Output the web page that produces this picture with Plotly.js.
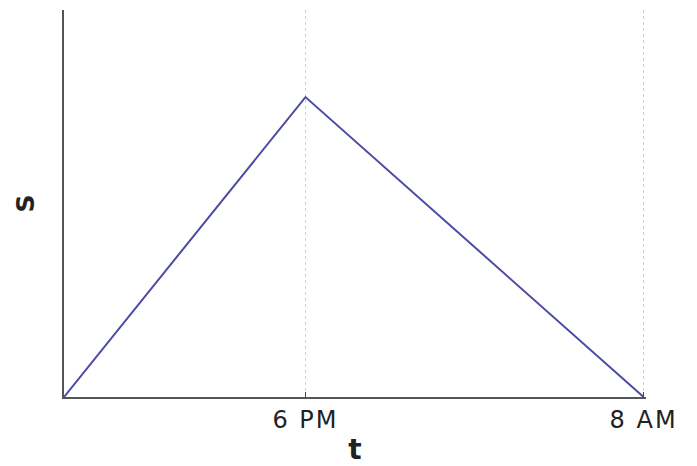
<!DOCTYPE html>
<html>
<head>
<meta charset="utf-8">
<script src="https://cdn.plot.ly/plotly-3.0.1.min.js"></script>
<style>
  html, body { margin: 0; padding: 0; background: #fff; }
  #plot { width: 697px; height: 466px; }
  /* the reference labels are wide-set */
  #plot .xtick text { letter-spacing: 2px; }
</style>
</head>
<body>
<div id="plot"></div>
<script>
// time in hours from midnight (8 AM start, 6 PM peak, 8 AM next day)
const hours = [8, 18, 32];
const storage = [0, 0.775, 0];
const tickHours = [18, 32];
const tickLabels = ['6 PM', '8 AM'];

const data = [{
    x: hours, y: storage,
    type: 'scatter', mode: 'lines',
    line: { color: '#4b4ba6', width: 2 },
    hoverinfo: 'none'
}];

const layout = {
    width: 697, height: 466,
    margin: { l: 64, r: 51, t: 10, b: 69 },
    paper_bgcolor: '#fff', plot_bgcolor: '#fff',
    showlegend: false,
    font: { family: 'DejaVu Sans, Arial, sans-serif', color: '#222' },
    xaxis: {
        range: [8, 32.1],   // a bit past 8 AM so its grid line is kept
        tickvals: tickHours, ticktext: tickLabels,
        ticks: 'inside', ticklen: 5, tickwidth: 1, tickcolor: '#444',
        tickfont: { size: 24, color: '#222' },
        showgrid: true, gridcolor: '#d0d0d0', gridwidth: 1, griddash: 'dot',
        showline: true, linecolor: '#555', linewidth: 2,
        zeroline: false,
        title: { text: '<b>t</b>', font: { size: 28, color: '#222' }, standoff: 12 }
    },
    yaxis: {
        range: [0, 1],
        showticklabels: false, ticks: '',
        showgrid: false, zeroline: false,
        showline: true, linecolor: '#555', linewidth: 2,
        title: { text: '<b>S</b>', font: { size: 25, color: '#222' }, standoff: 20 }
    }
};

Plotly.newPlot('plot', data, layout, { staticPlot: true });
</script>
</body>
</html>
